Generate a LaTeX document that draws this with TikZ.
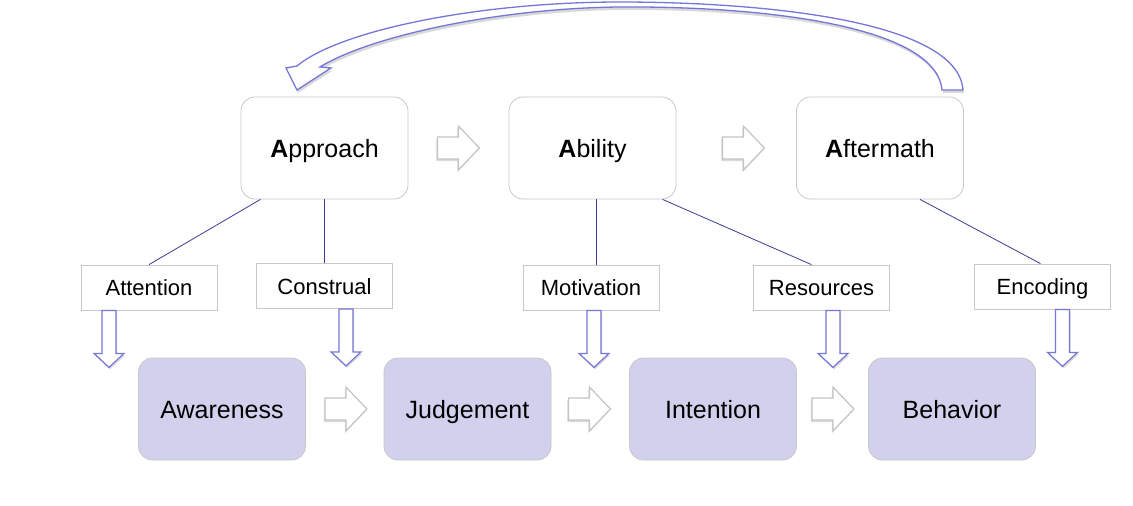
\documentclass[tikz,border=0pt]{standalone}
\usepackage{fontspec}
\setmainfont{Liberation Sans}
\usetikzlibrary{positioning,shadows}
\definecolor{boxline}{HTML}{C8C8C8}
\definecolor{stagefill}{HTML}{D1D1EE}
\definecolor{linkblue}{HTML}{3A3A96}
\definecolor{arrowblue}{HTML}{7676D8}
\definecolor{grayline}{HTML}{C4C4C4}

\tikzset{
  phase/.style={draw=boxline, fill=white, rounded corners=14pt, line width=0.8pt,
    minimum width=167pt, minimum height=102pt, text height=18pt, text depth=0pt,
    font=\fontsize{25}{30}\selectfont},
  stage/.style={phase, fill=stagefill},
  factor/.style={draw=boxline, fill=white, line width=0.8pt, inner sep=0pt,
    minimum width=136pt, minimum height=45pt, text height=16pt, text depth=0pt,
    font=\fontsize{22}{26}\selectfont},
  link/.style={draw=linkblue, line width=0.8pt},
  downarrow/.style={draw=arrowblue, fill=white, line width=1.2pt,
    drop shadow={shadow xshift=1pt, shadow yshift=-2pt, opacity=.3}},
  nextarrow/.style={draw=grayline, fill=white, line width=1.2pt,
    drop shadow={shadow xshift=-1pt, shadow yshift=-2pt, opacity=.3}},
  backarrow/.style={draw=arrowblue, fill=white, line width=1.3pt,
    drop shadow={shadow xshift=1pt, shadow yshift=-3pt, opacity=.3}}
}

\begin{document}
\begin{tikzpicture}[x=1pt, y=-1pt]
  \useasboundingbox (0,0) rectangle (1133,506);

  % top row
  \node[phase] (appr) at (324.5,148) {{\bfseries A}pproach};
  \node[phase] (abil) at (592.5,148) {{\bfseries A}bility};
  \node[phase] (aftm) at (880,148) {{\bfseries A}ftermath};

  % bottom row
  \node[stage] (aware) at (222,409) {Awareness};
  \node[stage] (judge) at (467.5,409) {Judgement};
  \node[stage] (inten) at (713,409) {Intention};
  \node[stage] (behav) at (952,409) {Behavior};

  % factors
  \node[factor] (atten) at (149,287.5) {Attention};
  \node[factor] (constr) at (324.5,286) {Construal};
  \node[factor] (motiv) at (591,287.5) {Motivation};
  \node[factor] (resrc) at (821.5,287.5) {Resources};
  \node[factor] (encod) at (1042.5,286.5) {Encoding};

  \draw[link] ([xshift=-64pt]appr.south) -- (atten.north);
  \draw[link] (appr.south) -- (constr.north);
  \draw[link] ([xshift=4pt]abil.south) -- ([xshift=4pt]abil.south |- motiv.north);
  \draw[link] ([xshift=70pt]abil.south) -- ([xshift=-10pt]resrc.north);
  \draw[link] ([xshift=40pt]aftm.south) -- ([xshift=-2pt]encod.north);

  % arrows from factors down
  \foreach \f/\dx in {atten/-40, constr/21.5, motiv/3, resrc/11.5, encod/20}
    \draw[downarrow] ([xshift=\dx pt-7pt]\f.south) -- ++(14,0) -- ++(0,43) -- ++(8,0)
      -- ++(-15,14) -- ++(-15,-14) -- ++(8,0) -- cycle;

  % arrows between boxes
  \foreach \b/\dx in {appr/29, abil/46, aware/19, judge/17, inten/15}
    \draw[nextarrow] ([xshift=\dx pt, yshift=11pt]\b.east) -- ++(21,0) -- ++(0,-11)
      -- ++(21,22) -- ++(-21,22) -- ++(0,-11) -- ++(-21,0) -- cycle;

  % feedback arrow
  \draw[backarrow] (963,90) .. controls (958,20) and (760,2) .. (620,2)
    .. controls (480,2) and (340,30) .. (297,66)
    -- (286,68) -- (297,90) -- (331,68) -- (320,67)
    .. controls (370,36) and (500,8) .. (620,7)
    .. controls (760,6) and (936,25) .. (942,90) -- cycle;
\end{tikzpicture}
\end{document}
